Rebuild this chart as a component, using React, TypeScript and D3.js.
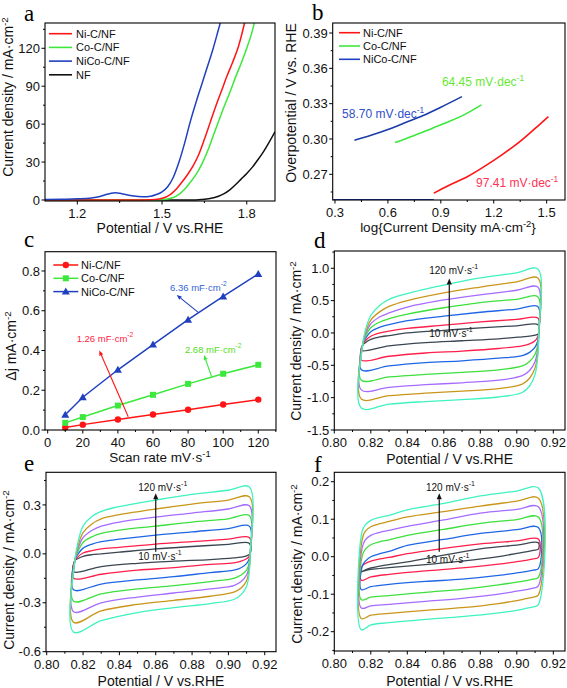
import React from "react";
import * as d3 from "d3";

const FONT = "Arial, 'Liberation Sans', Helvetica, sans-serif";
const SERIF = "'Times New Roman', 'Liberation Serif', 'DejaVu Serif', serif";

type Pt = [number, number];

// ---------------- common series ----------------
const NAMES = ["Ni-C/NF", "Co-C/NF", "NiCo-C/NF", "NF"];
const RED = "#ff1515";
const GREEN = "#3de83d";
const BLUE = "#2040c0";
const BLACK = "#111111";

// ---------------- panel a : LSV ----------------
const A_X_TICKS = [1.2, 1.5, 1.8];
const A_Y_TICKS = [0, 30, 60, 90, 120];
const A_NI: Pt[] = [[1.086, 0], [1.4, 0], [1.46, 0.2], [1.49, 0.8], [1.51, 2], [1.53, 4.5], [1.55, 8.5], [1.57, 14], [1.59, 20], [1.61, 27], [1.63, 36], [1.65, 48], [1.67, 61], [1.69, 74], [1.71, 86], [1.73, 98], [1.75, 109], [1.77, 121], [1.79, 138], [1.795, 143]];
const A_CO: Pt[] = [[1.086, 0], [1.43, 0], [1.49, 0.2], [1.52, 0.8], [1.54, 2], [1.56, 4.5], [1.58, 8.5], [1.6, 14], [1.62, 20], [1.64, 28], [1.66, 38], [1.68, 50], [1.7, 62], [1.72, 74], [1.74, 85], [1.76, 97], [1.78, 108], [1.8, 120], [1.82, 134], [1.83, 143]];
const A_NICO: Pt[] = [[1.086, 0.4], [1.15, 0.6], [1.2, 0.9], [1.25, 1.6], [1.28, 2.8], [1.3, 4.2], [1.32, 5.4], [1.335, 5.7], [1.35, 5.3], [1.37, 4.3], [1.4, 3.1], [1.43, 2.6], [1.46, 3.0], [1.48, 4.3], [1.5, 6.5], [1.52, 10.5], [1.54, 18], [1.56, 30], [1.58, 45], [1.6, 62], [1.62, 77], [1.64, 91], [1.66, 105], [1.68, 119], [1.7, 135], [1.71, 143]];
const A_NF: Pt[] = [[1.086, 0], [1.6, 0], [1.64, 0.4], [1.67, 1.2], [1.7, 3], [1.72, 5], [1.74, 8], [1.76, 12], [1.78, 16.5], [1.8, 21], [1.82, 26], [1.84, 32], [1.86, 38.5], [1.88, 46], [1.9, 54]];

// ---------------- panel b : Tafel ----------------
const B_X_TICKS = [0.3, 0.6, 0.9, 1.2, 1.5];
const B_Y_TICKS = [0.27, 0.3, 0.33, 0.36, 0.39];
const B_NI: Pt[] = [[0.86, 0.254], [0.95, 0.261], [1.05, 0.268], [1.15, 0.277], [1.25, 0.287], [1.35, 0.298], [1.45, 0.311], [1.51, 0.319]];
const B_CO: Pt[] = [[0.64, 0.297], [0.75, 0.303], [0.85, 0.309], [0.95, 0.315], [1.05, 0.322], [1.13, 0.329]];
const B_NICO: Pt[] = [[0.41, 0.299], [0.5, 0.303], [0.6, 0.308], [0.7, 0.314], [0.8, 0.32], [0.9, 0.327], [1.02, 0.336]];
const B_NICO_LOW: Pt[] = [[0.29, 0.2484], [0.86, 0.2484]];
const B_SLOPES = ["97.41", "64.45", "58.70"];

// ---------------- panel c : Cdl ----------------
const C_X_TICKS = [0, 20, 40, 60, 80, 100, 120];
const C_Y_TICKS = [0, 0.2, 0.4, 0.6, 0.8];
const C_SCAN = [10, 20, 40, 60, 80, 100, 120];
const C_NI = [0.013, 0.027, 0.053, 0.078, 0.102, 0.128, 0.153];
const C_CO = [0.036, 0.065, 0.123, 0.177, 0.232, 0.283, 0.328];
const C_NICO = [0.077, 0.165, 0.303, 0.43, 0.555, 0.672, 0.785];
const C_CDL = ["1.26", "2.68", "6.36"];

// ---------------- CV panels d, e, f ----------------
const CV_RATES = [10, 20, 40, 60, 80, 100, 120];
const CV_COLORS = ["#3a4652", "#ff1f4b", "#1f66e5", "#3de03d", "#a66cff", "#c9961a", "#3ff2c0"];
const CV_X_TICKS = [0.8, 0.82, 0.84, 0.86, 0.88, 0.9, 0.92];

const DE_X_UP = [0.8155, 0.817, 0.82, 0.825, 0.83, 0.84, 0.86, 0.88, 0.9, 0.9115];
const DE_X_LO = [0.912, 0.9115, 0.91, 0.907, 0.903, 0.89, 0.87, 0.85, 0.83, 0.8148];

const D_Y_TICKS = [-1.5, -1.0, -0.5, 0, 0.5, 1.0];
const D_UP = [
  [-0.19, -0.15, -0.1, -0.06, -0.04, 0.0, 0.04, 0.08, 0.11, 0.13],
  [-0.19, -0.12, -0.05, 0.0, 0.03, 0.07, 0.12, 0.17, 0.21, 0.23],
  [-0.19, -0.09, 0.02, 0.09, 0.13, 0.19, 0.26, 0.32, 0.37, 0.41],
  [-0.19, -0.06, 0.08, 0.17, 0.22, 0.29, 0.39, 0.47, 0.52, 0.56],
  [-0.19, -0.03, 0.14, 0.25, 0.31, 0.4, 0.51, 0.59, 0.66, 0.71],
  [-0.19, 0.0, 0.2, 0.33, 0.41, 0.5, 0.62, 0.71, 0.79, 0.85],
  [-0.19, 0.04, 0.27, 0.43, 0.52, 0.61, 0.74, 0.85, 0.93, 0.99],
];
const D_LO = [
  [0.0, -0.02, -0.035, -0.05, -0.06, -0.09, -0.12, -0.15, -0.2, -0.27],
  [0.0, -0.06, -0.12, -0.17, -0.2, -0.24, -0.28, -0.31, -0.36, -0.42],
  [0.0, -0.12, -0.22, -0.3, -0.35, -0.39, -0.43, -0.46, -0.51, -0.57],
  [0.0, -0.18, -0.33, -0.44, -0.51, -0.57, -0.61, -0.64, -0.68, -0.73],
  [0.0, -0.24, -0.44, -0.58, -0.66, -0.73, -0.77, -0.8, -0.84, -0.88],
  [0.0, -0.3, -0.54, -0.7, -0.79, -0.86, -0.9, -0.93, -0.97, -1.02],
  [0.0, -0.36, -0.64, -0.82, -0.92, -0.99, -1.03, -1.06, -1.1, -1.16],
];

const E_Y_TICKS = [-0.6, -0.3, 0, 0.3];
const E_UP = [
  [-0.04, -0.03, -0.015, -0.005, 0.0, 0.01, 0.03, 0.045, 0.058, 0.065],
  [-0.04, -0.02, 0.005, 0.02, 0.03, 0.04, 0.06, 0.075, 0.09, 0.1],
  [-0.04, -0.005, 0.035, 0.06, 0.075, 0.09, 0.115, 0.135, 0.155, 0.17],
  [-0.04, 0.01, 0.07, 0.105, 0.125, 0.145, 0.17, 0.195, 0.215, 0.235],
  [-0.04, 0.025, 0.1, 0.145, 0.17, 0.195, 0.225, 0.25, 0.275, 0.295],
  [-0.04, 0.04, 0.13, 0.185, 0.215, 0.24, 0.275, 0.305, 0.33, 0.35],
  [-0.04, 0.06, 0.17, 0.23, 0.26, 0.29, 0.33, 0.365, 0.39, 0.41],
];
const E_LO = [
  [0.0, -0.005, -0.012, -0.02, -0.025, -0.035, -0.045, -0.058, -0.078, -0.11],
  [0.0, -0.015, -0.03, -0.045, -0.055, -0.065, -0.085, -0.1, -0.125, -0.15],
  [0.0, -0.03, -0.06, -0.085, -0.1, -0.115, -0.14, -0.16, -0.185, -0.22],
  [0.0, -0.05, -0.1, -0.13, -0.15, -0.17, -0.195, -0.215, -0.245, -0.29],
  [0.0, -0.07, -0.13, -0.17, -0.195, -0.215, -0.24, -0.265, -0.3, -0.355],
  [0.0, -0.09, -0.165, -0.21, -0.235, -0.26, -0.285, -0.31, -0.35, -0.42],
  [0.0, -0.11, -0.2, -0.25, -0.28, -0.305, -0.33, -0.36, -0.41, -0.48],
];

const F_X_UP = [0.8152, 0.817, 0.82, 0.825, 0.83, 0.84, 0.86, 0.88, 0.9, 0.9118];
const F_X_LO = [0.9118, 0.909, 0.905, 0.9, 0.89, 0.87, 0.85, 0.83, 0.82, 0.8148];
const F_Y_TICKS = [-0.2, -0.1, 0, 0.1, 0.2];
const F_UP = [
  [-0.04, -0.035, -0.03, -0.025, -0.021, -0.014, 0.004, 0.021, 0.031, 0.037],
  [-0.025, -0.018, -0.012, -0.006, -0.002, 0.008, 0.022, 0.034, 0.042, 0.047],
  [-0.027, -0.012, 0.0, 0.008, 0.014, 0.03, 0.046, 0.062, 0.072, 0.078],
  [0.0, 0.02, 0.032, 0.04, 0.045, 0.057, 0.073, 0.089, 0.099, 0.106],
  [0.022, 0.045, 0.057, 0.065, 0.07, 0.081, 0.098, 0.116, 0.126, 0.133],
  [0.044, 0.068, 0.08, 0.088, 0.094, 0.106, 0.12, 0.135, 0.148, 0.156],
  [0.067, 0.085, 0.097, 0.105, 0.11, 0.125, 0.142, 0.162, 0.175, 0.183],
];
const F_LO = [
  [0.02, 0.017, 0.013, 0.009, 0.0, -0.012, -0.021, -0.029, -0.034, -0.04],
  [-0.002, -0.006, -0.01, -0.013, -0.02, -0.03, -0.038, -0.047, -0.054, -0.063],
  [-0.032, -0.036, -0.04, -0.043, -0.05, -0.06, -0.066, -0.074, -0.08, -0.088],
  [-0.055, -0.06, -0.064, -0.068, -0.075, -0.087, -0.095, -0.104, -0.108, -0.115],
  [-0.078, -0.084, -0.088, -0.092, -0.1, -0.111, -0.119, -0.127, -0.131, -0.137],
  [-0.102, -0.108, -0.112, -0.117, -0.125, -0.136, -0.143, -0.151, -0.156, -0.165],
  [-0.128, -0.134, -0.138, -0.143, -0.15, -0.16, -0.167, -0.176, -0.182, -0.195],
];

// ---------------- helpers ----------------
type Lin = d3.ScaleLinear<number, number>;

function fmt(d: number) {
  return (v: number) => (Math.abs(v) < 1e-9 ? (0).toFixed(d) : v.toFixed(d));
}

function minors(ticks: number[], dom: [number, number]) {
  const step = ticks[1] - ticks[0];
  const out: number[] = [];
  const lo = Math.min(dom[0], dom[1]);
  const hi = Math.max(dom[0], dom[1]);
  for (let v = ticks[0] - step / 2; v <= hi + 1e-9; v += step) {
    if (v >= lo - 1e-9) out.push(v);
  }
  return out;
}

function Axes(props: {
  x: Lin; y: Lin; xTicks: number[]; yTicks: number[];
  xFmt: (v: number) => string; yFmt: (v: number) => string;
}) {
  const { x, y, xTicks, yTicks, xFmt, yFmt } = props;
  const [l, r] = x.range();
  const [b, t] = y.range();
  const xm = minors(xTicks, x.domain() as [number, number]);
  const ym = minors(yTicks, y.domain() as [number, number]);
  return (
    <g fontFamily={FONT} fontSize={13} fill="#111">
      {xm.map((v, i) => (
        <line key={"xm" + i} x1={x(v)} x2={x(v)} y1={b} y2={b + 2} stroke="#000" strokeWidth={1} />
      ))}
      {ym.map((v, i) => (
        <line key={"ym" + i} x1={l} x2={l - 2} y1={y(v)} y2={y(v)} stroke="#000" strokeWidth={1} />
      ))}
      {xTicks.map((v, i) => (
        <g key={"x" + i}>
          <line x1={x(v)} x2={x(v)} y1={b} y2={b + 3.5} stroke="#000" strokeWidth={1} />
          <text x={x(v)} y={b + 17} textAnchor="middle">{xFmt(v)}</text>
        </g>
      ))}
      {yTicks.map((v, i) => (
        <g key={"y" + i}>
          <line x1={l} x2={l - 3.5} y1={y(v)} y2={y(v)} stroke="#000" strokeWidth={1} />
          <text x={l - 5} y={y(v) + 4.6} textAnchor="end">{yFmt(v)}</text>
        </g>
      ))}
      <rect x={l} y={t} width={r - l} height={b - t} fill="none" stroke="#000" strokeWidth={1.1} />
    </g>
  );
}

function Arrow(p: { x1: number; y1: number; x2: number; y2: number; color: string; head?: number; w?: number }) {
  const head = p.head ?? 5;
  const ang = Math.atan2(p.y2 - p.y1, p.x2 - p.x1);
  const hx = p.x2 - head * Math.cos(ang);
  const hy = p.y2 - head * Math.sin(ang);
  const px = Math.sin(ang) * head * 0.42;
  const py = -Math.cos(ang) * head * 0.42;
  return (
    <g>
      <line x1={p.x1} y1={p.y1} x2={hx} y2={hy} stroke={p.color} strokeWidth={p.w ?? 1} />
      <polygon points={`${p.x2},${p.y2} ${hx + px},${hy + py} ${hx - px},${hy - py}`} fill={p.color} />
    </g>
  );
}

function YTitle(p: { x: number; y: number; children: React.ReactNode; size?: number }) {
  return (
    <text transform={`translate(${p.x},${p.y}) rotate(-90)`} textAnchor="middle" fontFamily={FONT}
      fontSize={p.size ?? 14} fill="#111">{p.children}</text>
  );
}

function Letter(p: { x: number; y: number; t: string }) {
  return <text x={p.x} y={p.y} fontFamily={SERIF} fontSize={23} fill="#000">{p.t}</text>;
}

const Sup = (p: { t: string }) => (
  <tspan dy={-5} fontSize="70%">{p.t}</tspan>
);

// ---------------- panels ----------------
function PanelA() {
  const x = d3.scaleLinear().domain([1.0856, 1.9]).range([45, 275]);
  const y = d3.scaleLinear().domain([-0.8, 140]).range([201, 23]);
  const line = d3.line<Pt>().x((d) => x(d[0])).y((d) => y(d[1])).curve(d3.curveMonotoneX);
  const series = [
    { d: A_NF, c: BLACK },
    { d: A_CO, c: GREEN },
    { d: A_NI, c: RED },
    { d: A_NICO, c: BLUE },
  ];
  const legend = [
    { n: NAMES[0], c: RED },
    { n: NAMES[1], c: GREEN },
    { n: NAMES[2], c: BLUE },
    { n: NAMES[3], c: BLACK },
  ];
  return (
    <g>
      <defs>
        <clipPath id="clipA"><rect x={45} y={23} width={230} height={178} /></clipPath>
      </defs>
      <g clipPath="url(#clipA)">
        {series.map((s, i) => (
          <path key={i} d={line(s.d) || ""} fill="none" stroke={s.c} strokeWidth={1.5} />
        ))}
      </g>
      <Axes x={x} y={y} xTicks={A_X_TICKS} yTicks={A_Y_TICKS} xFmt={fmt(1)} yFmt={fmt(0)} />
      {legend.map((l, i) => (
        <g key={i}>
          <line x1={49} x2={72} y1={33.7 + i * 13.7} y2={33.7 + i * 13.7} stroke={l.c} strokeWidth={1.6} />
          <text x={76} y={33.7 + i * 13.7 + 4} fontFamily={FONT} fontSize={11} fill="#111">{l.n}</text>
        </g>
      ))}
      <text x={160} y={232.5} textAnchor="middle" fontFamily={FONT} fontSize={14} fill="#111">Potential / V vs.RHE</text>
      <YTitle x={13} y={97}>Current density / mA·cm<Sup t="-2" /></YTitle>
      <Letter x={24} y={21} t="a" />
    </g>
  );
}

function PanelB() {
  const x = d3.scaleLinear().domain([0.287, 1.604]).range([332.7, 565]);
  const y = d3.scaleLinear().domain([0.2482, 0.3985]).range([200, 23]);
  const line = d3.line<Pt>().x((d) => x(d[0])).y((d) => y(d[1])).curve(d3.curveMonotoneX);
  const legend = [
    { n: NAMES[0], c: RED },
    { n: NAMES[1], c: GREEN },
    { n: NAMES[2], c: BLUE },
  ];
  return (
    <g>
      <defs>
        <clipPath id="clipB"><rect x={332.7} y={23} width={232.3} height={177} /></clipPath>
      </defs>
      <g clipPath="url(#clipB)">
        <path d={line(B_NICO_LOW) || ""} fill="none" stroke={BLUE} strokeWidth={1.6} />
        <path d={line(B_NI) || ""} fill="none" stroke={RED} strokeWidth={1.6} />
        <path d={line(B_CO) || ""} fill="none" stroke={GREEN} strokeWidth={1.6} />
        <path d={line(B_NICO) || ""} fill="none" stroke={"#1c3ca8"} strokeWidth={1.6} />
      </g>
      <Axes x={x} y={y} xTicks={B_X_TICKS} yTicks={B_Y_TICKS} xFmt={fmt(1)} yFmt={fmt(2)} />
      {legend.map((l, i) => (
        <g key={i}>
          <line x1={339} x2={360} y1={32.7 + i * 13.3} y2={32.7 + i * 13.3} stroke={l.c} strokeWidth={1.6} />
          <text x={363} y={32.7 + i * 13.3 + 4} fontFamily={FONT} fontSize={11} fill="#111">{l.n}</text>
        </g>
      ))}
      <g fontFamily={FONT} fontSize={12}>
        <text x={x(0.34)} y={y(0.318)} fill="#3050c8">{B_SLOPES[2]} mV·dec<Sup t="-1" /></text>
        <text x={x(0.906)} y={y(0.345)} fill="#66e833">{B_SLOPES[1]} mV·dec<Sup t="-1" /></text>
        <text x={x(1.1)} y={y(0.2595)} fill="#ff3355">{B_SLOPES[0]} mV·dec<Sup t="-1" /></text>
      </g>
      <text x={448} y={232} textAnchor="middle" fontFamily={FONT} fontSize={13.5} fill="#111">
        log{"{"}Current Density mA·cm<tspan dy={-5} fontSize="70%">-2</tspan><tspan dy={5}>{"}"}</tspan>
      </text>
      <YTitle x={296} y={103}>Overpotential / V vs. RHE</YTitle>
      <Letter x={312} y={20} t="b" />
    </g>
  );
}

function Marker(p: { kind: number; cx: number; cy: number; c: string }) {
  if (p.kind === 0) return <circle cx={p.cx} cy={p.cy} r={3.2} fill={p.c} />;
  if (p.kind === 1) return <rect x={p.cx - 3} y={p.cy - 3} width={6} height={6} fill={p.c} />;
  const s = 4;
  return <polygon points={`${p.cx},${p.cy - s} ${p.cx + s},${p.cy + s * 0.75} ${p.cx - s},${p.cy + s * 0.75}`} fill={p.c} />;
}

function PanelC() {
  const x = d3.scaleLinear().domain([-1.54, 130.1]).range([45, 276]);
  const y = d3.scaleLinear().domain([0, 0.897]).range([430, 251.7]);
  const line = d3.line<number>().x((_, i) => x(C_SCAN[i])).y((d) => y(d));
  const series = [
    { v: C_NI, c: RED },
    { v: C_CO, c: GREEN },
    { v: C_NICO, c: BLUE },
  ];
  const notes = [
    { t: C_CDL[2], c: "#3366d6", lx: 69.7, ly: 0.7, fx: 85.8, fy: 0.592, tx: 73.5, ty: 0.679, ac: BLUE },
    { t: C_CDL[0], c: "#ff2244", lx: 16.5, ly: 0.443, fx: 45.9, fy: 0.067, tx: 29.4, ty: 0.4, ac: RED },
    { t: C_CDL[1], c: "#55dd22", lx: 78.2, ly: 0.387, fx: 93.4, fy: 0.268, tx: 89.1, ty: 0.377, ac: GREEN },
  ];
  return (
    <g>
      {series.map((s, i) => (
        <g key={i}>
          <path d={line(s.v) || ""} fill="none" stroke={s.c} strokeWidth={1.5} />
          {s.v.map((v, j) => (
            <Marker key={j} kind={i} cx={x(C_SCAN[j])} cy={y(v)} c={s.c} />
          ))}
        </g>
      ))}
      {notes.map((n, i) => (
        <g key={i}>
          <Arrow x1={x(n.fx)} y1={y(n.fy)} x2={x(n.tx)} y2={y(n.ty)} color={n.ac} head={5} w={1.1} />
          <text x={x(n.lx)} y={y(n.ly)} fontFamily={FONT} fontSize={9.5} fill={n.c}>{n.t} mF·cm<Sup t="-2" /></text>
        </g>
      ))}
      <Axes x={x} y={y} xTicks={C_X_TICKS} yTicks={C_Y_TICKS} xFmt={fmt(0)} yFmt={fmt(1)} />
      {series.map((s, i) => (
        <g key={i}>
          <line x1={53.3} x2={78.3} y1={265 + i * 13.3} y2={265 + i * 13.3} stroke={s.c} strokeWidth={1.5} />
          <Marker kind={i} cx={65.8} cy={265 + i * 13.3} c={s.c} />
          <text x={81} y={265 + i * 13.3 + 4} fontFamily={FONT} fontSize={11} fill="#111">{NAMES[i]}</text>
        </g>
      ))}
      <text x={160} y={462} textAnchor="middle" fontFamily={FONT} fontSize={13.5} fill="#111">Scan rate mV·s<Sup t="-1" /></text>
      <YTitle x={16} y={346}>Δj mA·cm<Sup t="-2" /></YTitle>
      <Letter x={24} y={247} t="c" />
    </g>
  );
}

function CvPanel(p: {
  id: string; left: number; right: number; top: number; bottom: number;
  xDom: [number, number]; yDom: [number, number]; yTicks: number[];
  xUp: number[]; xLo: number[]; up: number[][]; lo: number[][];
  arrowX: number; arrowY0: number; arrowY1: number; topLabelY: number; botLabelY: number; labelX: number;
  xTitleY: number; yTitleX: number; yTitleY: number; letter: string; letterX: number; letterY: number;
}) {
  const x = d3.scaleLinear().domain(p.xDom).range([p.left, p.right]);
  const y = d3.scaleLinear().domain(p.yDom).range([p.bottom, p.top]);
  const loop = d3.line<Pt>().x((d) => x(d[0])).y((d) => y(d[1])).curve(d3.curveCatmullRomClosed.alpha(0.5));
  const cx = (p.left + p.right) / 2;
  return (
    <g>
      <defs>
        <clipPath id={"clip" + p.id}><rect x={p.left} y={p.top} width={p.right - p.left} height={p.bottom - p.top} /></clipPath>
      </defs>
      <g clipPath={`url(#clip${p.id})`}>
        {CV_RATES.map((r, i) => {
          const pts: Pt[] = p.xUp.map((xv, k) => [xv, p.up[i][k]] as Pt)
            .concat(p.xLo.map((xv, k) => [xv, p.lo[i][k]] as Pt));
          return <path key={r} d={loop(pts) || ""} fill="none" stroke={CV_COLORS[i]} strokeWidth={1.3} />;
        })}
      </g>
      <Arrow x1={x(p.arrowX)} y1={y(p.arrowY0)} x2={x(p.arrowX)} y2={y(p.arrowY1)} color="#111" head={6} w={1.2} />
      <g fontFamily={FONT} fontSize={10} fill="#111">
        <text x={x(p.labelX)} y={y(p.topLabelY)}>{CV_RATES[6]} mV·s<Sup t="-1" /></text>
        <text x={x(p.labelX)} y={y(p.botLabelY)}>{CV_RATES[0]} mV·s<Sup t="-1" /></text>
      </g>
      <Axes x={x} y={y} xTicks={CV_X_TICKS} yTicks={p.yTicks} xFmt={fmt(2)} yFmt={fmt(1)} />
      <text x={cx} y={p.xTitleY} textAnchor="middle" fontFamily={FONT} fontSize={14} fill="#111">Potential / V vs.RHE</text>
      <YTitle x={p.yTitleX} y={p.yTitleY}>Current density / mA·cm<Sup t="-2" /></YTitle>
      <Letter x={p.letterX} y={p.letterY} t={p.letter} />
    </g>
  );
}

export default function App() {
  return (
    <svg width={567} height={688} viewBox="0 0 567 688" style={{ position: "absolute", left: 0, top: 0, background: "#fff" }}>
      <rect x={0} y={0} width={567} height={688} fill="#fff" />
      <PanelA />
      <PanelB />
      <PanelC />
      <CvPanel id="D" left={334.3} right={565} top={251} bottom={430} xDom={[0.8, 0.9264]} yDom={[-1.5, 1.267]}
        yTicks={D_Y_TICKS} xUp={DE_X_UP} xLo={DE_X_LO} up={D_UP} lo={D_LO}
        arrowX={0.863} arrowY0={0.02} arrowY1={0.84} topLabelY={0.91} botLabelY={-0.06} labelX={0.852}
        xTitleY={463.5} yTitleX={301} yTitleY={341} letter="d" letterX={314} letterY={248} />
      <CvPanel id="E" left={46} right={276} top={472.3} bottom={651.7} xDom={[0.7996, 0.9262]} yDom={[-0.6, 0.5]}
        yTicks={E_Y_TICKS} xUp={DE_X_UP} xLo={DE_X_LO} up={E_UP} lo={E_LO}
        arrowX={0.86} arrowY0={0.013} arrowY1={0.372} topLabelY={0.386} botLabelY={-0.037} labelX={0.8504}
        xTitleY={686} yTitleX={14} yTitleY={570} letter="e" letterX={24} letterY={471} />
      <CvPanel id="F" left={334.3} right={565} top={472.3} bottom={651} xDom={[0.8, 0.9264]} yDom={[-0.2515, 0.2251]}
        yTicks={F_Y_TICKS} xUp={F_X_UP} xLo={F_X_LO} up={F_UP} lo={F_LO}
        arrowX={0.8575} arrowY0={0.0133} arrowY1={0.169} topLabelY={0.175} botLabelY={-0.017} labelX={0.8502}
        xTitleY={686} yTitleX={302} yTitleY={564} letter="f" letterX={314} letterY={471.5} />
    </svg>
  );
}
